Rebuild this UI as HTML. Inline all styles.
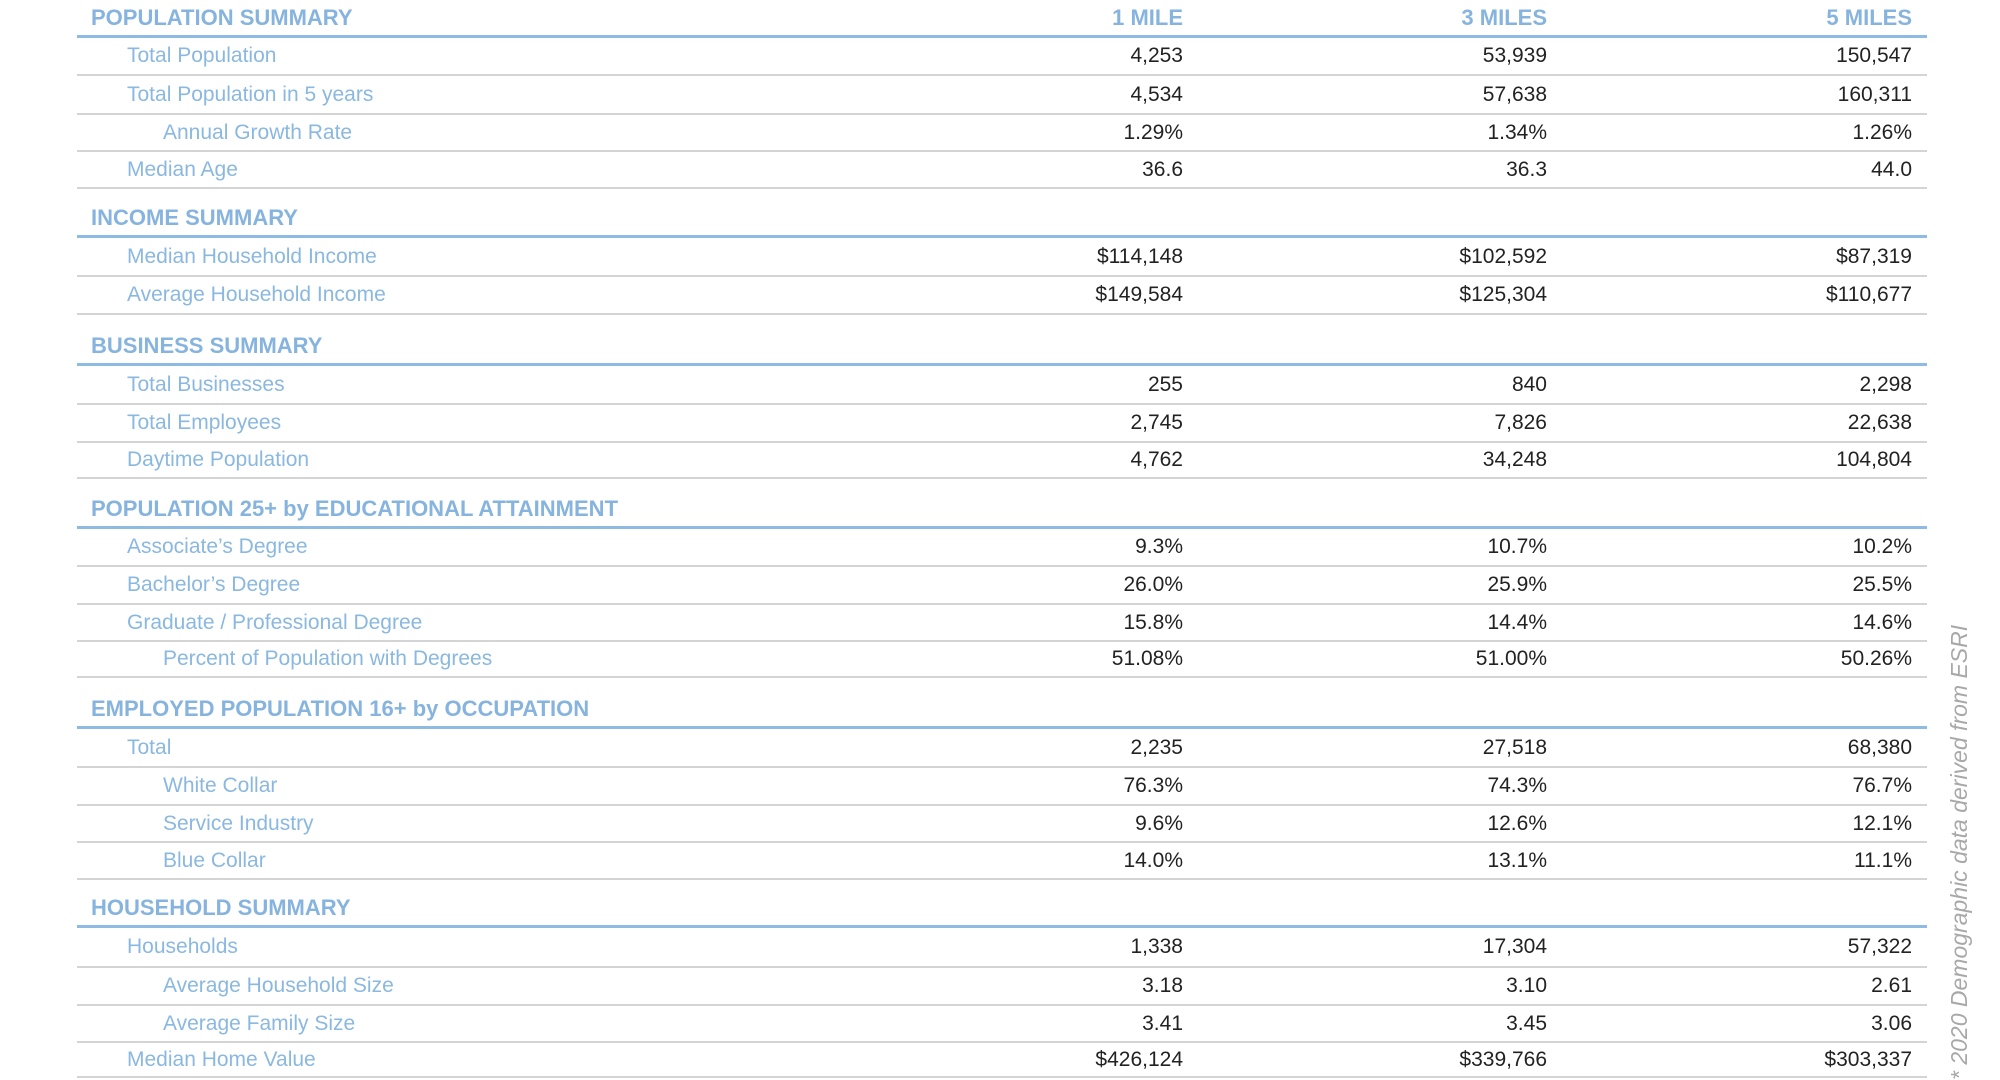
<!DOCTYPE html>
<html><head><meta charset="utf-8"><style>
body{margin:0;width:2000px;height:1080px;background:#fff;position:relative;overflow:hidden;font-family:"Liberation Sans",sans-serif}
.h{position:absolute;left:91px;height:36px;line-height:36px;font-size:22px;font-weight:bold;color:#86b4de;width:1836px}
.h span{position:absolute;top:0}
.b{position:absolute;left:77px;width:1850px;height:3px;background:#8dbbe3}
.r{position:absolute;left:77px;width:1850px;border-bottom:2px solid #d4d4d4;font-size:21px;display:flex;align-items:center}
.r .l{position:absolute;left:50px;color:#8ab8e0}
.r .l.i{left:86px}
.r .v{position:absolute;color:#222}
.c1{right:744px}.c2{right:380px}.c3{right:15px}
.side{position:absolute;left:1945px;top:1080px;transform-origin:0 0;transform:rotate(-90deg);font-style:italic;font-size:23px;color:#a8a8a8;white-space:nowrap;width:460px;line-height:28px}
</style></head><body>

<div class="h" style="top:0px"><span style="left:0">POPULATION SUMMARY</span><span style="right:744px">1 MILE</span><span style="right:380px">3 MILES</span><span style="right:15px">5 MILES</span></div>
<div class="b" style="top:35px"></div>
<div class="r" style="top:38px;height:36px"><span class="l">Total Population</span><span class="v c1">4,253</span><span class="v c2">53,939</span><span class="v c3">150,547</span></div>
<div class="r" style="top:76px;height:37px"><span class="l">Total Population in 5 years</span><span class="v c1">4,534</span><span class="v c2">57,638</span><span class="v c3">160,311</span></div>
<div class="r" style="top:115px;height:35px"><span class="l i">Annual Growth Rate</span><span class="v c1">1.29%</span><span class="v c2">1.34%</span><span class="v c3">1.26%</span></div>
<div class="r" style="top:152px;height:35px"><span class="l">Median Age</span><span class="v c1">36.6</span><span class="v c2">36.3</span><span class="v c3">44.0</span></div>

<div class="h" style="top:200px"><span style="left:0">INCOME SUMMARY</span></div>
<div class="b" style="top:235px"></div>
<div class="r" style="top:238px;height:37px"><span class="l">Median Household Income</span><span class="v c1">$114,148</span><span class="v c2">$102,592</span><span class="v c3">$87,319</span></div>
<div class="r" style="top:277px;height:36px"><span class="l">Average Household Income</span><span class="v c1">$149,584</span><span class="v c2">$125,304</span><span class="v c3">$110,677</span></div>

<div class="h" style="top:328px"><span style="left:0">BUSINESS SUMMARY</span></div>
<div class="b" style="top:363px"></div>
<div class="r" style="top:366px;height:37px"><span class="l">Total Businesses</span><span class="v c1">255</span><span class="v c2">840</span><span class="v c3">2,298</span></div>
<div class="r" style="top:405px;height:36px"><span class="l">Total Employees</span><span class="v c1">2,745</span><span class="v c2">7,826</span><span class="v c3">22,638</span></div>
<div class="r" style="top:443px;height:34px"><span class="l">Daytime Population</span><span class="v c1">4,762</span><span class="v c2">34,248</span><span class="v c3">104,804</span></div>

<div class="h" style="top:491px"><span style="left:0">POPULATION 25+ by EDUCATIONAL ATTAINMENT</span></div>
<div class="b" style="top:526px"></div>
<div class="r" style="top:529px;height:36px"><span class="l">Associate’s Degree</span><span class="v c1">9.3%</span><span class="v c2">10.7%</span><span class="v c3">10.2%</span></div>
<div class="r" style="top:567px;height:36px"><span class="l">Bachelor’s Degree</span><span class="v c1">26.0%</span><span class="v c2">25.9%</span><span class="v c3">25.5%</span></div>
<div class="r" style="top:605px;height:35px"><span class="l">Graduate / Professional Degree</span><span class="v c1">15.8%</span><span class="v c2">14.4%</span><span class="v c3">14.6%</span></div>
<div class="r" style="top:642px;height:34px"><span class="l i">Percent of Population with Degrees</span><span class="v c1">51.08%</span><span class="v c2">51.00%</span><span class="v c3">50.26%</span></div>

<div class="h" style="top:691px"><span style="left:0">EMPLOYED POPULATION 16+ by OCCUPATION</span></div>
<div class="b" style="top:726px"></div>
<div class="r" style="top:729px;height:37px"><span class="l">Total</span><span class="v c1">2,235</span><span class="v c2">27,518</span><span class="v c3">68,380</span></div>
<div class="r" style="top:768px;height:36px"><span class="l i">White Collar</span><span class="v c1">76.3%</span><span class="v c2">74.3%</span><span class="v c3">76.7%</span></div>
<div class="r" style="top:806px;height:35px"><span class="l i">Service Industry</span><span class="v c1">9.6%</span><span class="v c2">12.6%</span><span class="v c3">12.1%</span></div>
<div class="r" style="top:843px;height:35px"><span class="l i">Blue Collar</span><span class="v c1">14.0%</span><span class="v c2">13.1%</span><span class="v c3">11.1%</span></div>

<div class="h" style="top:890px"><span style="left:0">HOUSEHOLD SUMMARY</span></div>
<div class="b" style="top:925px"></div>
<div class="r" style="top:928px;height:38px"><span class="l">Households</span><span class="v c1">1,338</span><span class="v c2">17,304</span><span class="v c3">57,322</span></div>
<div class="r" style="top:968px;height:36px"><span class="l i">Average Household Size</span><span class="v c1">3.18</span><span class="v c2">3.10</span><span class="v c3">2.61</span></div>
<div class="r" style="top:1006px;height:35px"><span class="l i">Average Family Size</span><span class="v c1">3.41</span><span class="v c2">3.45</span><span class="v c3">3.06</span></div>
<div class="r" style="top:1043px;height:33px"><span class="l">Median Home Value</span><span class="v c1">$426,124</span><span class="v c2">$339,766</span><span class="v c3">$303,337</span></div>

<div class="side">* 2020 Demographic data derived from ESRI</div>
</body></html>
